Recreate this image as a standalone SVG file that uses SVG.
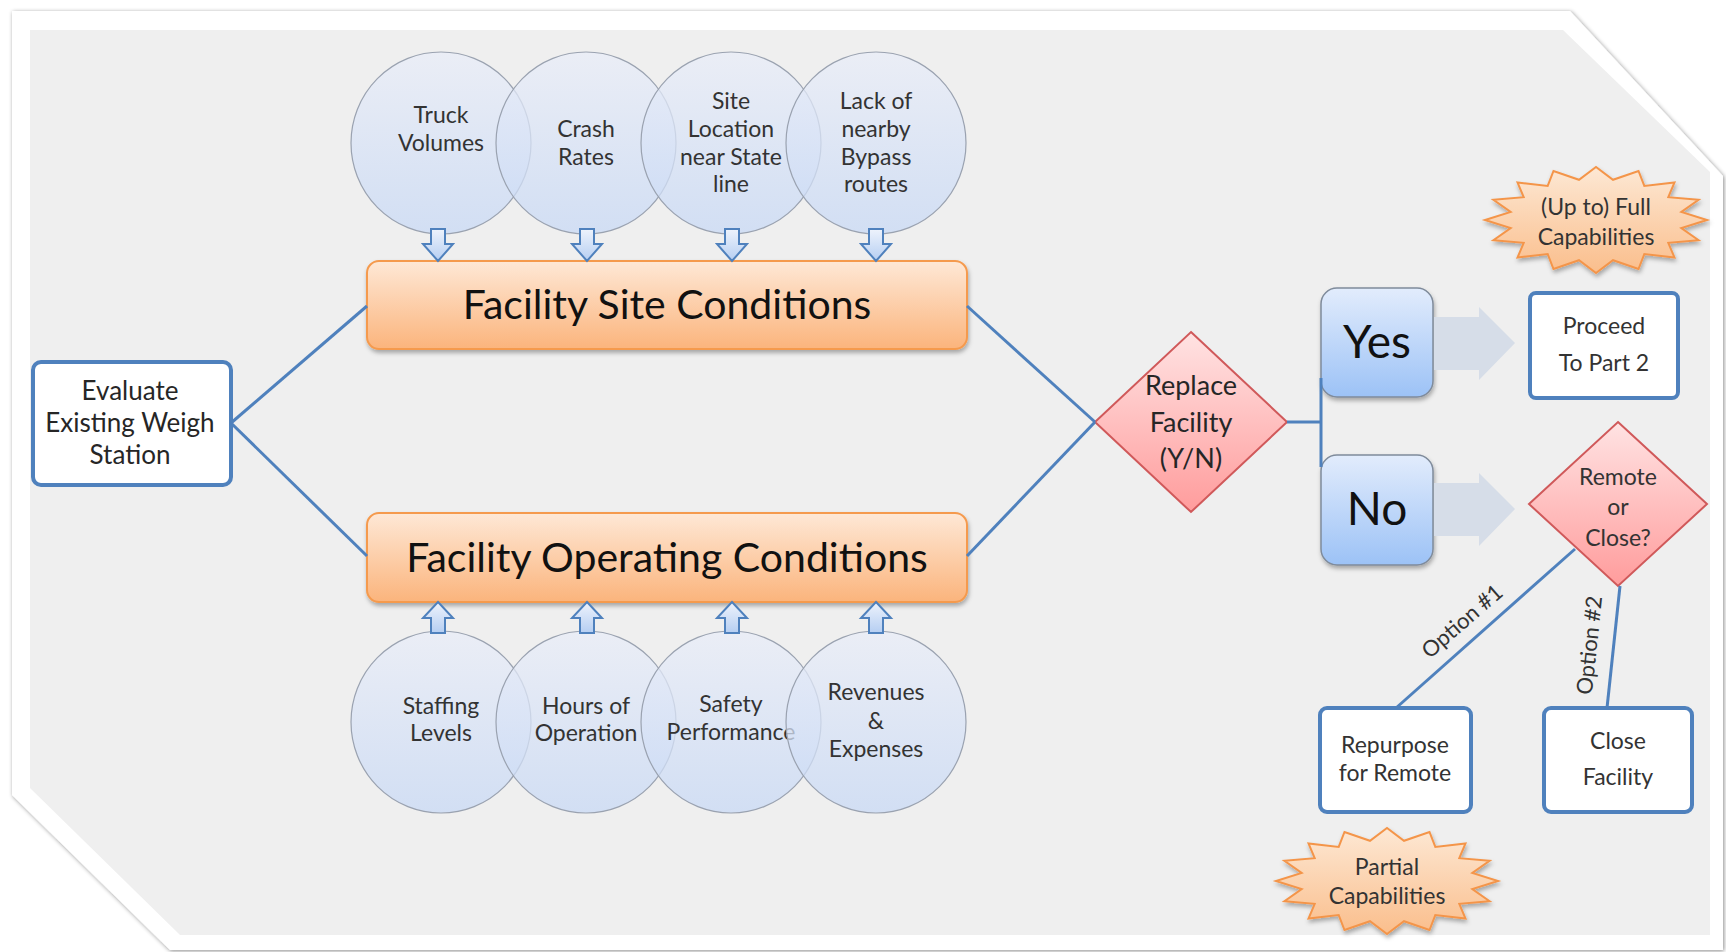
<svg xmlns="http://www.w3.org/2000/svg" xmlns:xlink="http://www.w3.org/1999/xlink" width="1726" height="952" viewBox="0 0 1726 952">
<defs>
  <linearGradient id="gOrange" x1="0" y1="0" x2="0" y2="1">
    <stop offset="0" stop-color="#FEE8D6"/><stop offset="1" stop-color="#FBB47C"/>
  </linearGradient>
  <linearGradient id="gCircle" x1="0" y1="0" x2="0" y2="1">
    <stop offset="0" stop-color="#E9EDF8"/><stop offset="1" stop-color="#C8D9F5"/>
  </linearGradient>
  <linearGradient id="gBlue" x1="0" y1="0" x2="0" y2="1">
    <stop offset="0" stop-color="#E2ECFC"/><stop offset="1" stop-color="#9CC2F6"/>
  </linearGradient>
  <linearGradient id="gPink" x1="0" y1="0" x2="0" y2="1">
    <stop offset="0" stop-color="#FFE3E3"/><stop offset="1" stop-color="#FF9C9C"/>
  </linearGradient>
  <linearGradient id="gStar" x1="0" y1="0" x2="0" y2="1">
    <stop offset="0" stop-color="#FDE8D4"/><stop offset="1" stop-color="#FABE8C"/>
  </linearGradient>
  <linearGradient id="gArrow" x1="0" y1="0" x2="0" y2="1">
    <stop offset="0" stop-color="#EEF3FC"/><stop offset="1" stop-color="#B5CEF2"/>
  </linearGradient>
  <filter id="shadow" x="-10%" y="-10%" width="120%" height="130%">
    <feDropShadow dx="1" dy="3" stdDeviation="2" flood-color="#000" flood-opacity="0.3"/>
  </filter>
  <filter id="frameShadow" x="-2%" y="-2%" width="104%" height="104%">
    <feDropShadow dx="1" dy="1" stdDeviation="2" flood-color="#000" flood-opacity="0.45"/>
  </filter>
  <path id="dArrow" d="M-7,0 H7 V15 H15 L0,32 L-15,15 H-7 Z"/>
  <path id="uArrow" d="M0,0 L15,16 H7 V31 H-7 V16 H-15 Z"/>
  <path id="bigArrow" d="M0,10 H45 V0 L81,36 L45,73 V63 H0 Z"/>
  <polygon id="star" points="111,0 85.3,8 102.6,20.3 72.3,22.8 78.5,37.5 48.3,34.1 42.5,49 17,40.2 0,53 -17,40.2 -42.5,49 -48.3,34.1 -78.5,37.5 -72.3,22.8 -102.6,20.3 -85.3,8 -111,0 -85.3,-8 -102.6,-20.3 -72.3,-22.8 -78.5,-37.5 -48.3,-34.1 -42.5,-49 -17,-40.2 0,-53 17,-40.2 42.5,-49 48.3,-34.1 78.5,-37.5 72.3,-22.8 102.6,-20.3 85.3,-8"/>
</defs>
<style>
  text { font-family: Lato, "Open Sans", "Liberation Sans", sans-serif; fill: #262626; text-anchor: middle; }
  .frame { fill: #FFFFFF; }
  .bg { fill: #EFEFEF; }
  .orange { fill: url(#gOrange); stroke: #F59A4E; stroke-width: 2; filter: url(#shadow); }
  .circ { fill: url(#gCircle); fill-opacity: 0.75; stroke: #9AA2B0; stroke-width: 1.2; }
  .wbox { fill: #FFFFFF; stroke: #4F81BD; stroke-width: 4; }
  .yn { fill: url(#gBlue); stroke: #7F8B9B; stroke-width: 1.5; filter: url(#shadow); }
  .dia { fill: url(#gPink); stroke: #D0595A; stroke-width: 2; }
  .star { fill: url(#gStar); stroke: #F4954A; stroke-width: 2; filter: url(#shadow); }
  .line { fill: none; stroke: #4F81BD; stroke-width: 3; }
  .sarrow { fill: url(#gArrow); stroke: #4F81BD; stroke-width: 2; }
  .garrow { fill: #D6DDE8; }
  .big { font-size: 41px; fill: #111; }
  .yntxt { font-size: 46px; fill: #111; }
  .ct { font-size: 23px; fill: #333; }
  .bt { font-size: 26px; }
  .dt { font-size: 27px; }
  .st { font-size: 23px; fill: #333; }
  .opt { font-size: 22px; fill: #333; }
</style>

<g id="frame">
  <polygon class="frame" filter="url(#frameShadow)" points="12,11 1570,11 1723,176 1723,950 170,950 12,795"/>
  <polygon class="bg" points="30,30 1563,30 1710,172 1710,935 180,935 30,788"/>
</g>

<g id="evaluate">
  <rect class="wbox" x="33" y="362" width="198" height="123" rx="8"/>
  <text class="bt" x="130" y="400">Evaluate</text>
  <text class="bt" x="130" y="432">Existing Weigh</text>
  <text class="bt" x="130" y="464">Station</text>
</g>

<g id="circle-truck">
  <ellipse class="circ" cx="441" cy="143" rx="90" ry="91"/>
  <text class="ct" x="441" y="123">Truck</text>
  <text class="ct" x="441" y="151">Volumes</text>
</g>
<g id="circle-crash">
  <ellipse class="circ" cx="586" cy="143" rx="90" ry="91"/>
  <text class="ct" x="586" y="137">Crash</text>
  <text class="ct" x="586" y="165">Rates</text>
</g>
<g id="circle-site">
  <ellipse class="circ" cx="731" cy="143" rx="90" ry="91"/>
  <text class="ct" x="731" y="109">Site</text>
  <text class="ct" x="731" y="137">Location</text>
  <text class="ct" x="731" y="165">near State</text>
  <text class="ct" x="731" y="192">line</text>
</g>
<g id="circle-bypass">
  <ellipse class="circ" cx="876" cy="143" rx="90" ry="91"/>
  <text class="ct" x="876" y="109">Lack of</text>
  <text class="ct" x="876" y="137">nearby</text>
  <text class="ct" x="876" y="165">Bypass</text>
  <text class="ct" x="876" y="192">routes</text>
</g>

<g id="circle-staffing">
  <ellipse class="circ" cx="441" cy="722" rx="90" ry="91"/>
  <text class="ct" x="441" y="714">Staffing</text>
  <text class="ct" x="441" y="741">Levels</text>
</g>
<g id="circle-hours">
  <ellipse class="circ" cx="586" cy="722" rx="90" ry="91"/>
  <text class="ct" x="586" y="714">Hours of</text>
  <text class="ct" x="586" y="741">Operation</text>
</g>
<g id="circle-safety">
  <ellipse class="circ" cx="731" cy="722" rx="90" ry="91"/>
  <text class="ct" x="731" y="712">Safety</text>
  <text class="ct" x="731" y="740">Performance</text>
</g>
<g id="circle-revenues">
  <ellipse class="circ" cx="876" cy="722" rx="90" ry="91"/>
  <text class="ct" x="876" y="700">Revenues</text>
  <text class="ct" x="876" y="729">&amp;</text>
  <text class="ct" x="876" y="757">Expenses</text>
</g>

<g id="site-conditions">
  <rect class="orange" x="367" y="261" width="600" height="88" rx="12"/>
  <text class="big" x="667" y="319">Facility Site Conditions</text>
</g>
<g id="operating-conditions">
  <rect class="orange" x="367" y="513" width="600" height="89" rx="12"/>
  <text class="big" x="667" y="572">Facility Operating Conditions</text>
</g>

<g id="replace">
  <polygon class="dia" points="1191,332 1287,422 1191,512 1095,422"/>
  <text class="dt" x="1191" y="395">Replace</text>
  <text class="dt" x="1191" y="432">Facility</text>
  <text class="dt" x="1191" y="468">(Y/N)</text>
</g>

<g id="yes">
  <rect class="yn" x="1321" y="288" width="112" height="109" rx="16"/>
  <text class="yntxt" x="1377" y="358">Yes</text>
</g>
<g id="no">
  <rect class="yn" x="1321" y="455" width="112" height="110" rx="16"/>
  <text class="yntxt" x="1377" y="525">No</text>
</g>

<g id="proceed">
  <rect class="wbox" x="1530" y="293" width="148" height="105" rx="6"/>
  <text class="st" x="1604" y="334">Proceed</text>
  <text class="st" x="1604" y="371">To Part 2</text>
</g>

<g id="remote-close">
  <polygon class="dia" points="1618,422 1707,504 1618,586 1529,504"/>
  <text class="st" x="1618" y="485">Remote</text>
  <text class="st" x="1618" y="515">or</text>
  <text class="st" x="1618" y="546">Close?</text>
</g>

<g id="repurpose">
  <rect class="wbox" x="1320" y="708" width="151" height="104" rx="7"/>
  <text class="st" x="1395" y="753">Repurpose</text>
  <text class="st" x="1395" y="781">for Remote</text>
</g>
<g id="close-facility">
  <rect class="wbox" x="1544" y="708" width="148" height="104" rx="7"/>
  <text class="st" x="1618" y="749">Close</text>
  <text class="st" x="1618" y="785">Facility</text>
</g>

<g id="full-capabilities">
  <use href="#star" class="star" x="1596" y="220"/>
  <text class="st" x="1596" y="215">(Up to) Full</text>
  <text class="st" x="1596" y="245">Capabilities</text>
</g>
<g id="partial-capabilities">
  <use href="#star" class="star" x="1387" y="881"/>
  <text class="st" x="1387" y="875">Partial</text>
  <text class="st" x="1387" y="904">Capabilities</text>
</g>

<g id="connectors">
  <path class="line" d="M231,423 L367,306"/>
  <path class="line" d="M231,423 L367,556"/>
  <path class="line" d="M967,306 L1095,422"/>
  <path class="line" d="M967,556 L1095,422"/>
  <path class="line" d="M1287,422 H1321 M1321,378 V467"/>
  <path class="line" d="M1575,549 L1396,708"/>
  <path class="line" d="M1620,586 L1607,708"/>
  <use href="#dArrow" class="sarrow" x="438" y="229"/>
  <use href="#dArrow" class="sarrow" x="587" y="229"/>
  <use href="#dArrow" class="sarrow" x="732" y="229"/>
  <use href="#dArrow" class="sarrow" x="876" y="229"/>
  <use href="#uArrow" class="sarrow" x="438" y="602"/>
  <use href="#uArrow" class="sarrow" x="587" y="602"/>
  <use href="#uArrow" class="sarrow" x="732" y="602"/>
  <use href="#uArrow" class="sarrow" x="876" y="602"/>
  <use href="#bigArrow" class="garrow" x="1434" y="307"/>
  <use href="#bigArrow" class="garrow" x="1434" y="473"/>
  <text class="opt" transform="translate(1467,627) rotate(-41)">Option #1</text>
  <text class="opt" transform="translate(1597,646) rotate(-84)">Option #2</text>
</g>
</svg>
